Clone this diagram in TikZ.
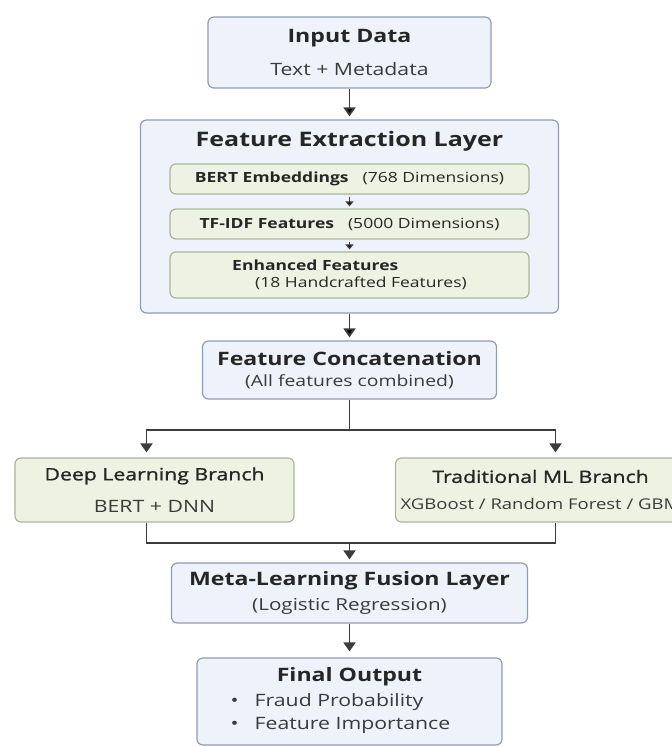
\documentclass[tikz,border=0pt]{standalone}
\usepackage{fontspec}
\setmainfont[FakeStretch=1.25]{Open Sans}
\newfontfamily\semifont[FakeStretch=1.25,FakeBold=1.2]{Open Sans}
\usetikzlibrary{positioning,arrows.meta}

\definecolor{boxblue}{HTML}{EEF2FA}
\definecolor{lineblue}{HTML}{8F9DB3}
\definecolor{boxgreen}{HTML}{EEF2E2}
\definecolor{linegreen}{HTML}{AAB59C}
\definecolor{inkdark}{HTML}{262626}
\definecolor{inksoft}{HTML}{3A3A3A}
\definecolor{wiregray}{HTML}{3C3C3C}

\newcommand\titlefont{\bfseries\fontsize{18.5}{22}\selectfont}
\newcommand\notefont{\fontsize{17}{20}\selectfont}
\newcommand\smallfont{\fontsize{14}{16}\selectfont}

\tikzset{
  bluebox/.style={draw=lineblue,fill=boxblue,rounded corners=6pt,line width=1.2pt,
    align=center,inner sep=0pt,text=inkdark},
  greenbox/.style={draw=linegreen,fill=boxgreen,rounded corners=6pt,line width=1.2pt,
    align=center,inner sep=0pt,text=inkdark},
  wire/.style={draw=wiregray,line width=1.8pt},
  bigtip/.style={-{Triangle[length=9pt,width=12pt]},shorten >=3pt},
  smalltip/.style={-{Triangle[length=5pt,width=8pt]},line width=1.2pt}
}

\begin{document}
\begin{tikzpicture}[node distance=2cm,on grid]
      \clip (0,0) rectangle (672pt,-747pt);
      \fill[white] (0,0) rectangle (672pt,-747pt);

      \node[bluebox,minimum width=283pt,minimum height=71pt] (inp) at (349.5pt,-52.5pt)
        {{\titlefont Input Data}\\[14pt]{\notefont\color{inksoft} Text + Metadata}};
      \node[bluebox,minimum width=418pt,minimum height=193pt] (fel) [below=164pt of inp] {};
      \node[text=inkdark,font=\bfseries\fontsize{20}{24}\selectfont] (feltitle) [above=75pt of fel] {Feature Extraction Layer};
      \node[greenbox,minimum width=359pt,minimum height=30pt] (bert) [above=37.5pt of fel]
        {{\smallfont\bfseries BERT Embeddings}\hspace{14pt}{\smallfont (768 Dimensions)}};
      \node[greenbox,minimum width=359pt,minimum height=30pt] (tfidf) [below=45pt of bert]
        {{\smallfont\bfseries TF-IDF Features}\hspace{14pt}{\smallfont (5000 Dimensions)}};
      \node[greenbox,minimum width=359pt,minimum height=46pt,align=left,font=\smallfont] (enh) [below=51pt of tfidf]
        {\textbf{Enhanced Features}\\[1pt]\hspace*{23pt}(18 Handcrafted Features)};

      \node[bluebox,minimum width=294pt,minimum height=58pt] (fc) [below=153.5pt of fel]
        {{\titlefont Feature Concatenation}\\[8pt]{\fontsize{15.5}{18}\selectfont\color{inksoft} (All features combined)}};
      \node[greenbox,minimum width=279pt,minimum height=64pt] (dl) [below left=120pt and 195pt of fc]
        {{\semifont\fontsize{17}{20}\selectfont Deep Learning Branch}\\[15pt]{\notefont\color{inksoft} BERT + DNN}};
      \node[greenbox,minimum width=290pt,minimum height=64pt] (tml) [below right=120pt and 191pt of fc]
        {{\semifont\fontsize{17}{20}\selectfont Traditional ML Branch}\\[15pt]{\fontsize{14.8}{18}\selectfont\color{inksoft} XGBoost / Random Forest / GBM}};
      \node[bluebox,minimum width=356pt,minimum height=60pt] (meta) [below=223pt of fc]
        {{\titlefont Meta-Learning Fusion Layer}\\[8pt]{\fontsize{16.5}{19}\selectfont\color{inksoft} (Logistic Regression)}};
      \node[bluebox,minimum width=305pt,minimum height=87pt] (out) [below=108.5pt of meta]
        {{\titlefont Final Output}\\[5pt]
         {\notefont\color{inksoft}\begin{tabular}{@{}l@{}}
           \textbullet\hspace{16pt}Fraud Probability\\[3pt]
           \textbullet\hspace{16pt}Feature Importance
         \end{tabular}\hspace*{18pt}}};

      \coordinate (split) at ([yshift=-30pt]fc.south);
      \coordinate (merge) at ([yshift=-20pt]meta.north |- dl.south);

      \path[wire,bigtip]
        (inp) edge (fel)
        (fel) edge (fc);
      \draw[wire,bigtip] (merge) -- (meta.north);
      \draw[wire,bigtip,shorten >=6pt] (meta) -- (out);
      \path[wire,smalltip,shorten >=2pt,shorten <=2pt]
        (bert) edge (tfidf)
        (tfidf) edge (enh);

      \draw[wire] (fc) -- (split);
      \draw[wire,bigtip,shorten >=5pt] (split) -| ([xshift=-8pt]dl.north);
      \draw[wire,bigtip,shorten >=5pt] (split) -| ([xshift=15pt]tml.north);
      \draw[wire] ([xshift=-8pt]dl.south) |- (merge) -| ([xshift=15pt]tml.south);
    \end{tikzpicture}
\end{document}
